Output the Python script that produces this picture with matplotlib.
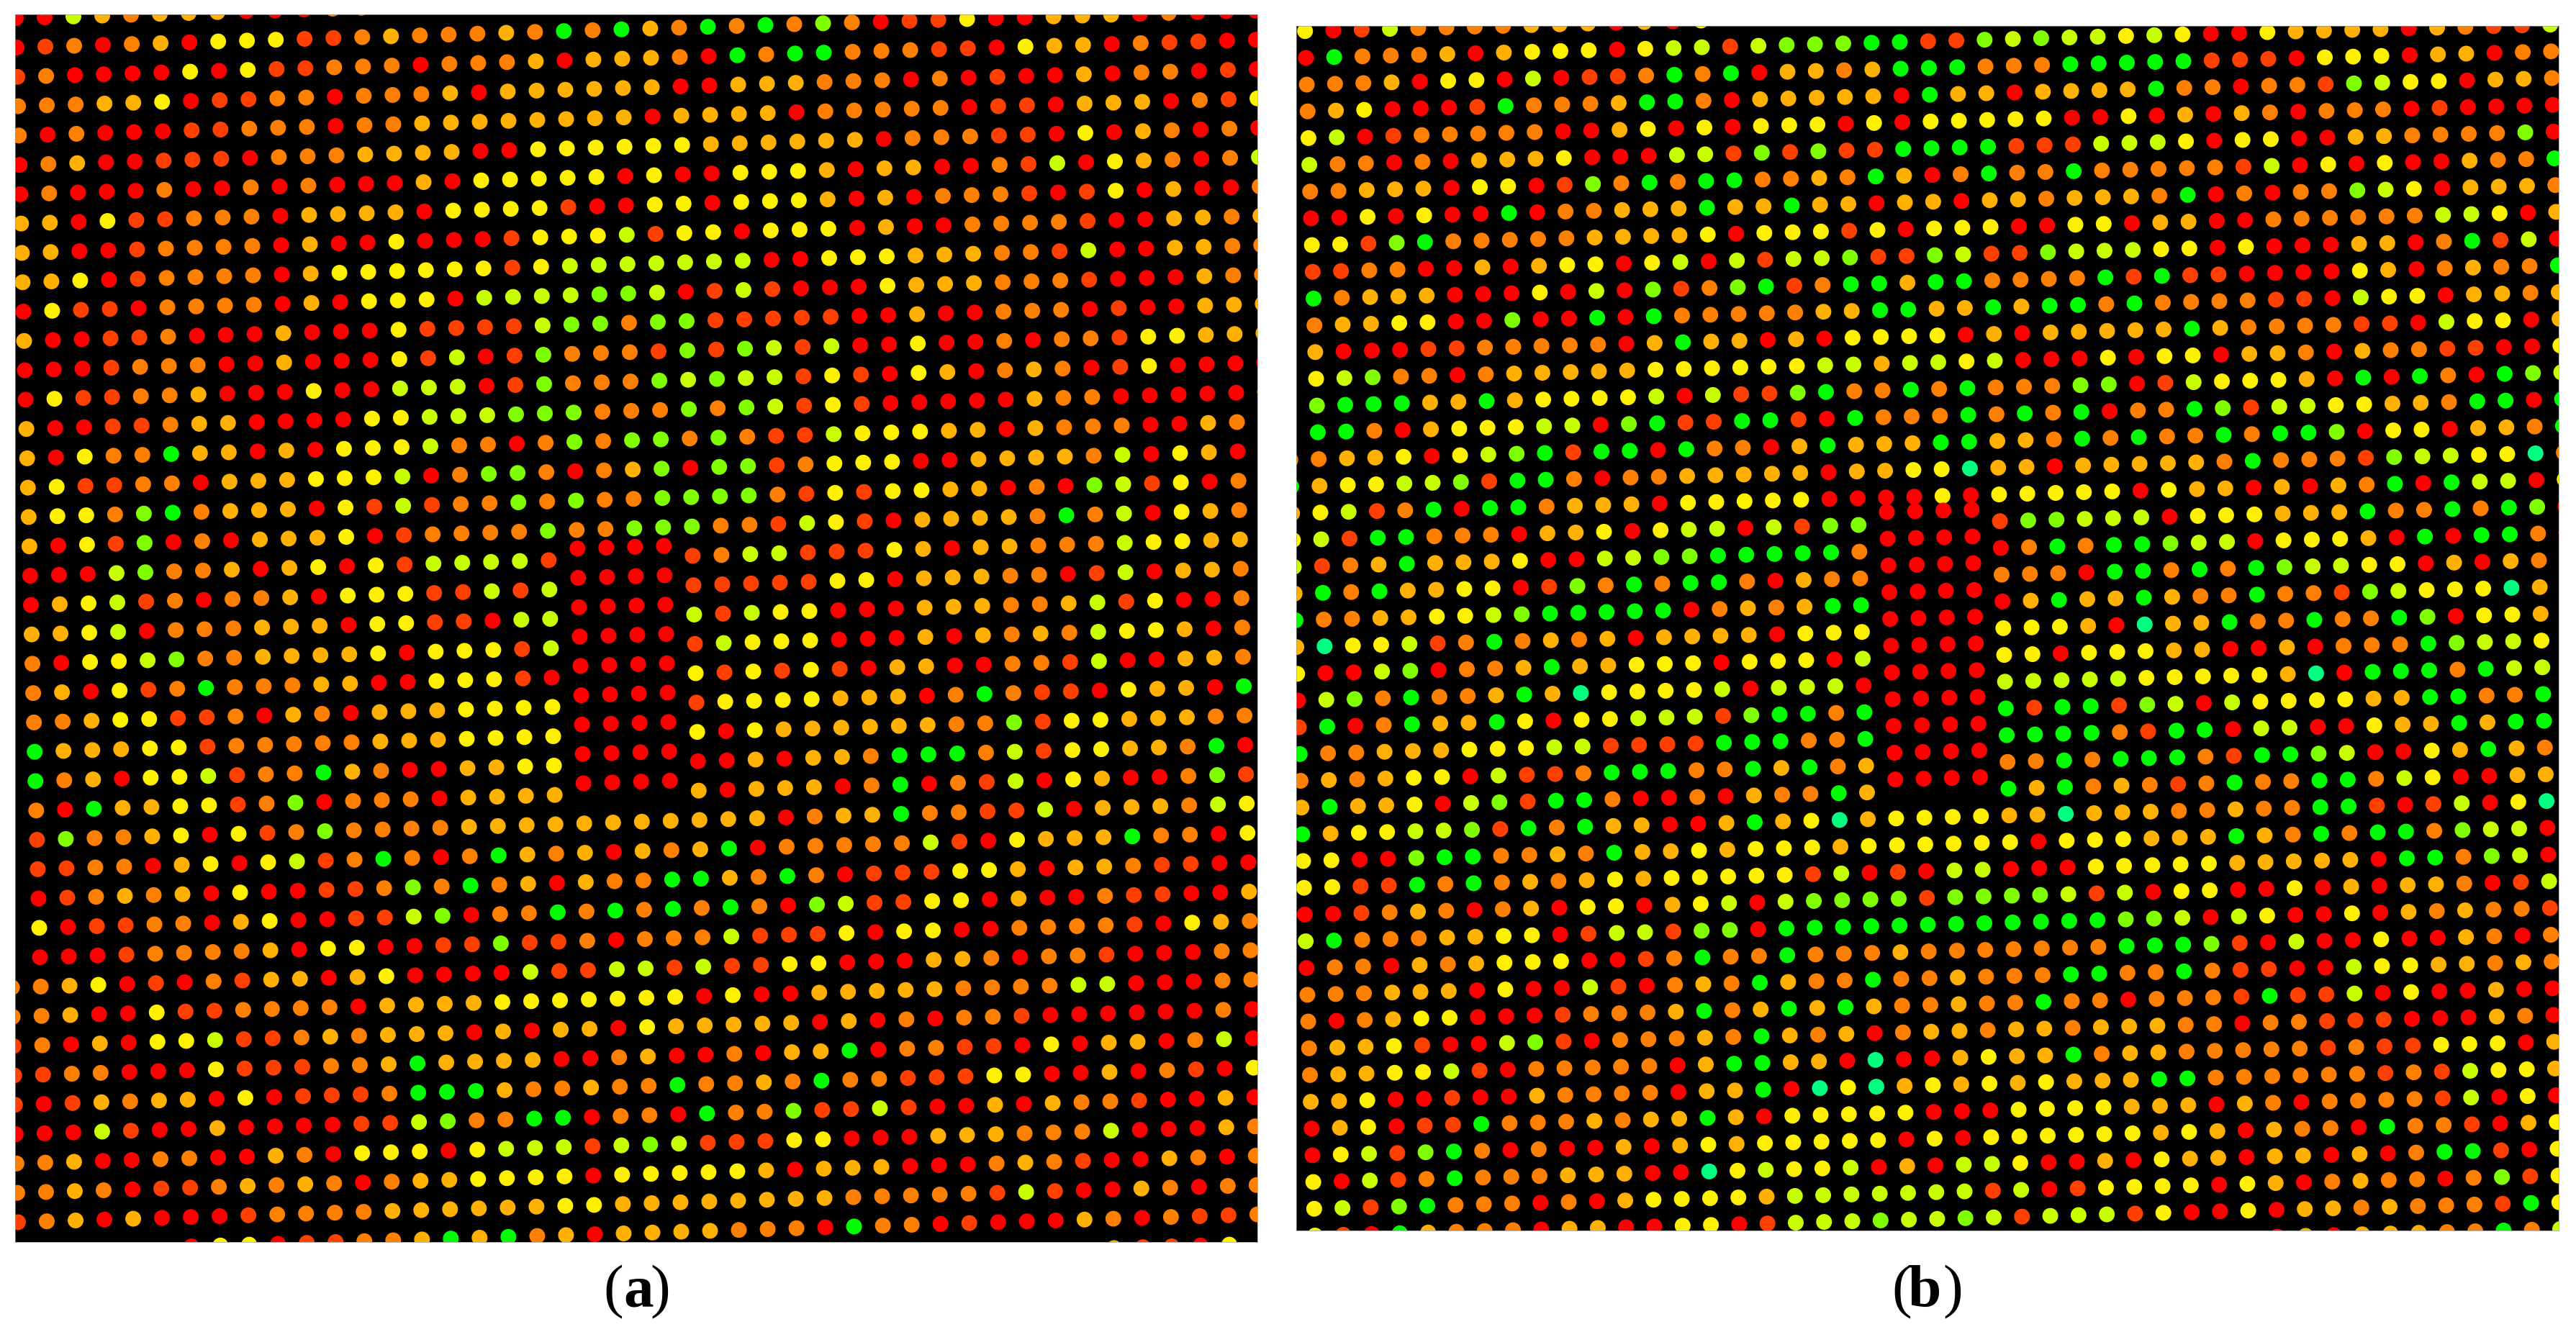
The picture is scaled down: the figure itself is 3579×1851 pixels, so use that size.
import matplotlib
matplotlib.use("Agg")
import matplotlib.pyplot as plt
from matplotlib.colors import ListedColormap
import numpy as np

W, H = 3579, 1851

# r red, d red-orange, o orange, a amber, y yellow, l yellow-green, m lime, g green, t teal
# '.' = spot outside the frame. First letter of a row is the column left of column 0.
LEVELS = "rdoaylmgt"
COLOURS = ["#ff0000", "#ff4000", "#ff8000", "#ffb000", "#fff000", "#c8ff00", "#80ff00", "#00ff00", "#00ff80"]

rows_a = [
    ".rrlaoaaarrroo",
    ".rdoroaryyyddoaoooaogoga" "ogogomorddyrraaarorrr",
    ".dorrrryryddoooroooaraaa" "orgoggoooddryaaroddrr",
    ".oooaayrddooroooaraaaaaa" "rraaaooorordrraroordr",
    ".ororrrddooorooaaaaaaaar" "aaaarooooorddraaarody",
    ".roarrdddroooaaaarryyyyy" "yaaaaaaroooddryraoror",
    ".rorrrorrororrraryyyyyry" "rryyyaraarrodlryaorol",
    ".aaryddoooraaaaryyyydrry" "yryyyararooodrdyrarro",
    ".aarrdoooorarryrrrdyyyld" "yyryyyrarroooodrraaoa",
    ".aayrdoooorayyyyyydyllll" "lllrryyyaaaoodlrraaoo",
    ".ryddrooooraryyyrllllmml" "rdldrrryaaaooodrrraoo",
    ".arrddorrrarrryddddlmmom" "mdddddrrarrooordrraaa",
    ".rrrdooorrarrrydlrdmoood" "mdmldlrryrroroodyyaaa",
    ".ryddooarrryrrlllrdmooom" "lmlldydryaroaordyrrrr",
    ".arrddoaarrrryylllmmmooo" "momldydrrrrraoorrrrra",
    ".aryoogaararyyylooromomm" "omoddlyyyaaraooorraoo",
    ".ayddooraaayyylrommoroam" "rmmdoyyyrraaaaolryara",
    ".ayyomgoaaarydldoomomoom" "mmmodydyyaarormldyroo",
    ".arydmroraaayrdoooomoomm" "moodlydraaaaogolryaoo",
    ".rrrlmooarayrydlllldrrrr" "dolldddyaraaooolyyaaa",
    ".rayldorooaryyyddldlrrrr" "dddddyyraaaoordlraaoa",
    ".aaylroooaaaryyddrllrrrr" "ldlyyrrraaaooaldyrroo",
    ".oryylmooaaaayryyydlrrrr" "dlyyyrrraraoaolyyaroo",
    ".oarydogoooaarryyydrrrrr" "ydydydraarroodlrraaoo",
    ".ooayyddoraoraaayyyyrrrr" "dyyyyaaarogoddryaargo",
    ".gaaayydoooooaaayyyyrrrr" "yryaaaaaaoomdyyaaaoor",
    ".goaryyldoogaorraayyrrrr" "rraraaogggoldyyaaogrr",
    ".orgaayydomroooraaaarrrr" "araaarogrodlryarromdd",
    ".dmooayrydomooooaaaaaaaa" "aaaroaagooddlraaaolyy",
    ".ddoorayryldogorogaoarao" "agroooooldryaaagooryy",
    ".rdoaoaryrrddomogoaraoog" "gaogordddyyaraaoddrrr",
    ".yrddoorayrrddlmroogogog" "ogormlddyyrarroddrraa",
    ".rrrdooooaryyrrddmddoroo" "oldddyryyrroooodryaoo",
    "ooayrdrodaarayrrrrlddlld" "lddyyrrraaoroodrrrooo",
    "ooarryddooooraaaayyyyyyy" "ryrraaaaaoooollrrrooo",
    "doraryylddoaoaaararaarya" "aaaararoroodrrrrrroro",
    "ddoorrrydddooagaaaarroar" "roraagrooddryraarolrr",
    "drdaoaaryrdddogggaooaoog" "ooaogoodddyyrrarodryy",
    "rrrldrrarrrrddlmooggroor" "goomddldrraraoodrrarr",
    "ooarroorraoryyyryllldlml" "dddyyrrraaaooolrrraoo",
    "ooaorddoaoaoroaayyyyryyy" "yyaraaarrroaodrraoroo",
    "doararrrdooooaaaaaayyaaa" "aaaaaooooodldrraorooo",
    "......ryyrddooagagoaraaa" "aooorgoordrrraoroddoo",
    "......................................addry..",
]

rows_b = [
    ".yrdlooooaaarary",
    ".rgoooarayyyrylldlmmmggd" "dmlmllylyrryaaaaraoddl",
    ".oooaryyrlrddogograaoagg" "gooogggggdddryyyraaroo",
    ".oayrrrdgoooaggoraaaaarg" "aaraaaagooroodmlyyraao",
    ".ylrdooooorrayryryyyryry" "yyyyrryraraorooordrrrr",
    ".loororaaayrrrlldmdmddgg" "ggdddlllyryyrraaoooomr",
    ".ooaaaryyrdmogoggooaogar" "ogoogooooodlryryrraoog",
    ".rryryrrgrooaaagaagaaraa" "raaoaaaogroroomlyraaao",
    ".yydmgoooooaaaayryyydyry" "yyrryyraarroooooollyra",
    ".ddoorrarayyrylrldllmddm" "lddmlllyyryrrraarogdlr",
    ".goaaarrryrlrmdomgdoggag" "goooogdgddrrrryaroaoog",
    ".oaayyrrmrrgrgoooooaagga" "agaggogooooddrlyyraaoa",
    ".arrrddoooooragaararyyyy" "raraaaaagaooooddrlyyra",
    ".ylmooroaaaaayyyyyyllall" "ylrrryryyraaoraooddrry",
    ".mgggaagayyyylrlddmgoogo" "gooommrdlyyyargrgorgml",
    ".ggorayyyllrmgddggdrgooo" "gogogroogmdllyyaaoggrg",
    "ooaayrylmgdggrgooragaaag" "gaaogogoogoggmryyraaog",
    "gayyllmdggorooaaaaaraayy" "taaraaaaaogooodmllyyto",
    "ayldogrggoaaaryyyyyrrrry" "ryyyyyryaararaogrgllry",
    "yldggoooraayryllrldmmrrrr" "dmmlllryyyaaagoogogmr",
    "ldoagaaayrrllmmgggggorrrr" "rogoggmllryyyargrggor",
    "agogaayyrdmogoggoraoorrrr" "ooorggogogmllyyraraog",
    "gooaayylmgggggroaoaggrrrr" "ragaagaoogoodmlyyytao",
    "atyyldogoaoaraaaaryyyrrrr" "yyyartaagoogoogmryyay",
    "yrrlmrooagaayyyryyyrlrrrr" "yyryyyaarrarooogmllyy",
    "rlmogooagatyyyylrlllrrrrr" "lllllyyyyyatrgggogllo",
    "dgrogaagyryyllldmggogrrrr" "gdggdmlrlyyyyaaggoogg",
    "gooaaayyylldddd" "gggoogrrrr" "ggggodggrllrryaagaggg",
    "oaoayyrlddogggoogagoarrrr" "oogogggodggmlrryagaoo",
    "agaayrlmdggorroraoogarrrr" "gagoaodogooggolyrraaa",
    "gayyllmdgogaarragaytayy" "yyaataaaooaooggdrdlryt.",
    "yyrrmggooaogaayayyyayyy" "yyyryyyaaagaogoggomllr.",
    "yyddgogoaoayayyyyydlrdr" "llrrryyyyyaaaaarggomlr.",
    "rrdoaoroaryyraylrlmmmmd" "mmmmldlryyrryraraaordl.",
    "lgoooaayyrdlldmmrgggggg" "ggggggmmlrlyrryraoaood.",
    "rooraoayyyrrdogoogoooao" "oooooogggmdrlrryrraoro.",
    "oooaaaryrrldroaogaoogoo" "aoooggoogoddrrlyyaaoao.",
    "oroayyrrrdoooagoagagaoo" "aoogoorooodgddlryrrarr.",
    "oaaydrrlmdroooaogaoaroa" "aoaaoaaaooroodddrrraor.",
    "oaayyldroooooraggaartrr" "ayaagoaaooooododdyyyra.",
    "aayrrdrraooooraagrtytay" "ayayaaaggoooooododlyya.",
    "rayrddgoooaoaagaryyyyyr" "rryyyyaaaraoroooodlryr.",
    "ryldmgororrarayayyyyyry" "ryyyyyyayaraoorgoodray.",
    "yrldogoooaaarrtylyylrar" "llyrraryaaraararoggdry.",
    "yldmgooororayyyyallllll" "ldlrdyyyyryaroaooromdy.",
    "ydrgaoooraarryyrdlllmll" "mldllldyrryraaoaooodgy.",
    ".................................." "raraaaoogol.",
]

cmap = ListedColormap(COLOURS)


def draw_panel(box, rows, x0, y0, dx, dy, shear_x, shear_y, block):
    """box is left, top, right, bottom in figure pixels, and the axes use those pixels as data."""
    left, top, right, bottom = box
    ax = fig.add_axes([left / W, 1 - bottom / H, (right - left) / W, (bottom - top) / H])
    ax.set_facecolor("black")
    ax.set_xlim(left, right)
    ax.set_ylim(bottom, top)
    ax.set_xticks([])
    ax.set_yticks([])
    for sp in ax.spines.values():
        sp.set_color("#999999")
        sp.set_linewidth(0.5)

    xs, ys, vals = [], [], []
    r0, r1, c0, c1, lift = block
    for r, row in enumerate(rows):
        for i, ch in enumerate(row):
            if ch == ".":
                continue
            c = i - 1
            x = x0 + dx * c + shear_x * (r - 1)
            y = y0 + dy * (r - 1) + shear_y * c
            # the centre block of red spots sits a little high
            if r0 <= r <= r1 and c0 <= c <= c1:
                y -= lift
            xs.append(x)
            ys.append(y)
            vals.append(LEVELS.index(ch))
    ax.scatter(xs, ys, c=np.array(vals), cmap=cmap, vmin=-0.5, vmax=len(LEVELS) - 0.5,
               s=250, marker="o", linewidths=0)


def label(x_open, x_letter, x_close, letter):
    serif = ["Liberation Serif", "DejaVu Serif"]
    y = 1 - 1815 / H
    fig.text(x_open / W, y, "(", fontsize=60, family=serif, va="baseline")
    fig.text(x_letter / W, y, letter, fontsize=60, family=serif, weight="bold", va="baseline")
    fig.text(x_close / W, y, ")", fontsize=60, family=serif, va="baseline")


fig = plt.figure(figsize=((W + 0.01) / 100, (H + 0.01) / 100), dpi=100, facecolor="white")
draw_panel((21, 20, 1747, 1726), rows_a, 23, 66, 40.02, 40.78, 1.05, -1.2, (19, 27, 19, 22, 15))
draw_panel((1801, 36, 3555, 1710), rows_b, 1814.4, 80.4, 39.29, 37.17, 1.18, -1.05, (19, 29, 20, 23, 17))
label(838, 866, 903, "a")
label(2628, 2651, 2699, "b")
fig.savefig("out.png", dpi=100)
